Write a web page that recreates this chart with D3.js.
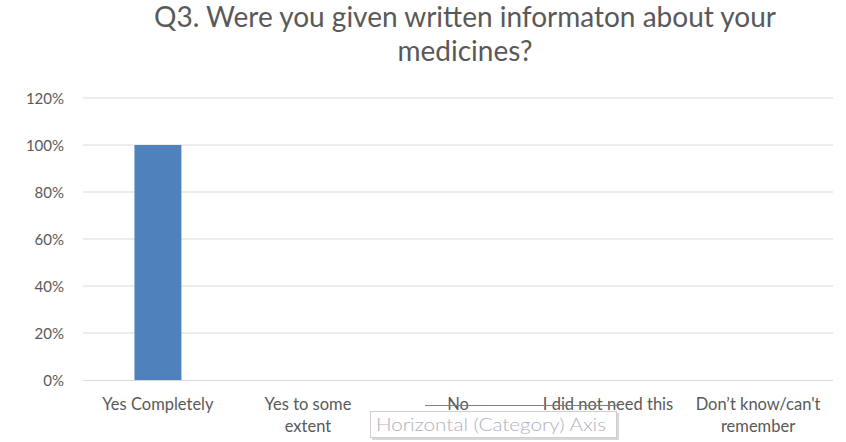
<!DOCTYPE html>
<html><head><meta charset="utf-8">
<script src="https://cdn.jsdelivr.net/npm/d3@7"></script>
<style>body{margin:0;background:#fff}</style>
</head><body>
<svg id="c" width="846" height="442"></svg>
<script>
const categories = ["Yes Completely", "Yes to some extent", "No", "I did not need this", "Don\u2019t know/can't remember"];
const categoryLines = [["Yes Completely"], ["Yes to some", "extent"], ["No"], ["I did not need this"], ["Don\u2019t know/can't", "remember"]];
const values = [1.0, 0, 0, 0, 0];
const yTicks = [0, 0.2, 0.4, 0.6, 0.8, 1.0, 1.2];
const titleLines = ["Q3. Were you given written informaton about your", "medicines?"];
const tooltipText = "Horizontal (Category) Axis";

const svg = d3.select("#c");
const font = "Lato, 'Open Sans', sans-serif";
const m = {left: 83, right: 833, top: 98, bottom: 380};

const x = d3.scaleBand().domain(categories).range([m.left, m.right]).paddingInner(0.687).paddingOuter(0.343);
const y = d3.scaleLinear().domain([0, 1.2]).range([m.bottom, m.top]);

// gridlines
svg.append("g").selectAll("line").data(yTicks.filter(d => d > 0)).join("line")
  .attr("x1", m.left).attr("x2", m.right)
  .attr("y1", d => y(d)).attr("y2", d => y(d))
  .attr("stroke", "#d9d9d9").attr("stroke-width", 1);

// y axis labels
const yAxis = d3.axisLeft(y).tickValues(yTicks).tickFormat(d3.format(".0%")).tickSize(0).tickPadding(0);
const ya = svg.append("g").attr("transform", `translate(${m.left - 19},0)`).call(yAxis);
ya.select(".domain").remove();
ya.selectAll("text").attr("font-family", font).attr("font-size", 15).attr("fill", "#595959").attr("dy", "0.35em");

// bars
svg.append("g").selectAll("rect").data(values).join("rect")
  .attr("x", (d, i) => x(categories[i]))
  .attr("width", x.bandwidth())
  .attr("y", d => y(d))
  .attr("height", d => y(0) - y(d))
  .attr("fill", "#4f81bd");

// x axis line
svg.append("line").attr("x1", m.left).attr("x2", m.right)
  .attr("y1", y(0) + 0.5).attr("y2", y(0) + 0.5).attr("stroke", "#d9d9d9");

// category labels
const xl = svg.append("g");
categories.forEach((c, i) => {
  const cx = x(c) + x.bandwidth() / 2;
  const t = xl.append("text").attr("x", cx).attr("y", 410)
    .attr("text-anchor", "middle").attr("font-family", font).attr("font-size", 16.5).attr("fill", "#595959");
  categoryLines[i].forEach((ln, j) => t.append("tspan").attr("x", cx).attr("dy", j ? 22 : 0).text(ln));
});

// title
const tt = svg.append("text").attr("x", 465).attr("y", 27).attr("text-anchor", "middle")
  .attr("font-family", font).attr("font-size", 28).attr("fill", "#595959");
titleLines.forEach((ln, j) => tt.append("tspan").attr("x", 465).attr("dy", j ? 34 : 0).text(ln));

// tooltip overlay
svg.append("line").attr("x1", 425).attr("x2", 619).attr("y1", 405.5).attr("y2", 405.5).attr("stroke", "#7f7f7f");
svg.append("rect").attr("x", 372).attr("y", 413).attr("width", 247).attr("height", 27).attr("fill", "#d8d8d8");
svg.append("rect").attr("x", 370.5).attr("y", 411.5).attr("width", 246).attr("height", 26)
  .attr("fill", "#fff").attr("stroke", "#cfcfcf");
svg.append("text").attr("x", 376).attr("y", 431).attr("font-family", font).attr("font-size", 18)
  .attr("font-weight", 300)
  .attr("textLength", 230).attr("lengthAdjust", "spacingAndGlyphs")
  .attr("fill", "#b0b0bf").text(tooltipText);
</script>
</body></html>
